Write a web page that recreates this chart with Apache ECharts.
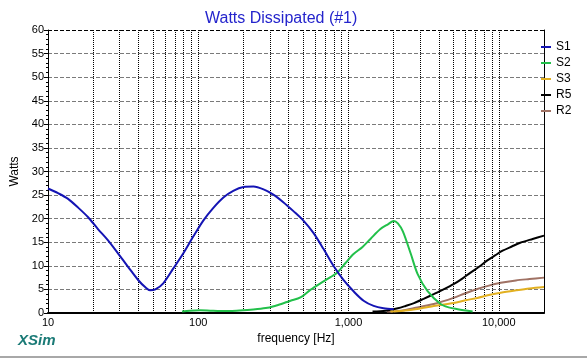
<!DOCTYPE html>
<html>
<head>
<meta charset="utf-8">
<script src="https://cdn.jsdelivr.net/npm/echarts@6/dist/echarts.min.js"></script>
<style>html,body{margin:0;padding:0;background:#fff;}#c{width:587px;height:360px;}</style>
</head>
<body>
<div id="c"></div>
<script>
const s1Freq = [10, 11.66, 13.6, 15.8, 18.5, 21.5, 25.1, 29.3, 34.1, 39.8, 44.3, 47.9, 51.8, 58.5, 68.1, 79.4, 92.6, 108, 126, 147, 171, 200, 233, 272, 316, 368, 430, 501, 584, 681, 794, 925, 1080, 1260, 1470, 1710, 2000];
const s1Watts = [26.4, 25.4, 24.2, 22.4, 20.3, 17.8, 15.4, 12.6, 9.8, 7.0, 5.5, 4.8, 5.0, 6.3, 9.4, 12.6, 16.2, 19.6, 22.3, 24.5, 25.9, 26.7, 26.8, 26.2, 25.1, 23.5, 21.6, 19.6, 17.0, 13.6, 10.0, 7.0, 4.6, 2.6, 1.5, 1.0, 0.8];
const s2Freq = [78, 88, 103, 120, 140, 168, 200, 240, 289, 340, 411, 479, 557, 650, 759, 843, 955, 1080, 1240, 1400, 1630, 1830, 2000, 2130, 2300, 2600, 2880, 3350, 4100, 4640, 5330, 6700];
const s2Watts = [0.3, 0.5, 0.6, 0.5, 0.4, 0.45, 0.6, 0.8, 1.1, 1.7, 2.6, 3.3, 4.9, 6.3, 7.6, 8.6, 10.6, 12.5, 14.0, 15.7, 17.8, 18.8, 19.5, 19.0, 17.3, 12.5, 8.3, 4.7, 1.9, 1.2, 0.8, 0.3];
const s3Freq = [1900, 2500, 3160, 3690, 5000, 6000, 7200, 8600, 10300, 13000, 16000, 20000];
const s3Watts = [0.3, 0.6, 1.1, 1.5, 2.1, 2.7, 3.2, 3.8, 4.3, 4.8, 5.2, 5.5];
const r5Freq = [1445, 1770, 2130, 2400, 2730, 3160, 3690, 4290, 5000, 5720, 6450, 7390, 8350, 9440, 10600, 12200, 13900, 16800, 20000];
const r5Watts = [0.3, 0.5, 1.0, 1.5, 2.1, 3.0, 4.0, 5.0, 6.1, 7.3, 8.5, 9.8, 11.1, 12.2, 13.2, 14.1, 14.9, 15.7, 16.4];
const r2Freq = [1800, 2220, 2800, 3690, 5000, 6000, 7200, 8600, 10300, 13000, 16000, 20000];
const r2Watts = [0.3, 0.5, 1.1, 1.9, 3.2, 4.2, 5.1, 5.8, 6.4, 6.9, 7.2, 7.5];
const seriesNames = ['S1', 'S2', 'S3', 'R5', 'R2'];
const seriesColors = ['#1414b4', '#22c04a', '#e2b020', '#000000', '#a07264'];
const gridFreqs = [20,30,40,50,60,70,80,90,100,200,300,400,500,600,700,800,900,1000,2000,3000,4000,5000,6000,7000,8000,9000,10000];

function pairs(f, w) { return f.map((x, i) => [x, w[i]]); }
const allData = [pairs(s1Freq, s1Watts), pairs(s2Freq, s2Watts), pairs(s3Freq, s3Watts), pairs(r5Freq, r5Watts), pairs(r2Freq, r2Watts)];

const series = seriesNames.map((n, i) => ({
  name: n, type: 'line', data: allData[i], showSymbol: false, smooth: 0.3,
  lineStyle: { width: 2, color: seriesColors[i] }, itemStyle: { color: seriesColors[i] },
  z: 7 - i
}));
series.push({
  name: 'grid', type: 'line', data: [], silent: true,
  markLine: {
    silent: true, symbol: 'none', label: { show: false },
    lineStyle: { type: 'dotted', color: '#000', width: 1 },
    data: gridFreqs.map(f => ({ xAxis: f })).concat([{ yAxis: 60, lineStyle: { type: 'dashed', color: '#000', width: 1 } }])
  }
});

const chart = echarts.init(document.getElementById('c'), null, { renderer: 'canvas' });
chart.setOption({
  animation: false,
  backgroundColor: '#fff',
  textStyle: { fontFamily: 'Liberation Sans, Arial, sans-serif' },
  title: { text: 'Watts Dissipated (#1)', left: 200, top: 6, textStyle: { color: '#2424cc', fontSize: 16, fontWeight: 'normal', fontFamily: 'Liberation Sans, Arial, sans-serif' } },
  legend: {
    data: seriesNames, orient: 'vertical', left: 536, top: 36, icon: 'rect', itemWidth: 10, itemHeight: 2, itemGap: 4,
    textStyle: { fontSize: 12, color: '#000', lineHeight: 12 }
  },
  grid: { left: 48, right: 43, top: 30, bottom: 47 },
  xAxis: {
    type: 'log', logBase: 10, min: 10, max: 20000,
    name: 'frequency [Hz]', nameLocation: 'middle', nameGap: 18,
    nameTextStyle: { fontSize: 12, color: '#000' },
    axisLine: { lineStyle: { color: '#000', width: 2 } },
    axisTick: { show: false },
    splitLine: { show: false },
    axisLabel: { fontSize: 11, color: '#000', margin: 4, formatter: v => (v >= 20000 ? '' : Number(v).toLocaleString('en-US')) }
  },
  yAxis: [{
    type: 'value', min: 0, max: 60, interval: 5,
    name: 'Watts', nameLocation: 'middle', nameGap: 26, nameRotate: 90,
    nameTextStyle: { fontSize: 12, color: '#000' },
    axisLine: { show: true, lineStyle: { color: '#000', width: 1 } },
    axisTick: { show: true, length: 4, lineStyle: { color: '#000' } },
    minorTick: { show: true, splitNumber: 5, length: 2, lineStyle: { color: '#000' } },
    splitLine: { show: true, lineStyle: { type: 'dashed', color: '#7a7a7a', width: 1 } },
    axisLabel: { fontSize: 11, color: '#000', margin: 4 }
  }, {
    type: 'value', min: 0, max: 60, position: 'right',
    axisLine: { show: true, lineStyle: { color: '#000', width: 1 } },
    axisTick: { show: false }, axisLabel: { show: false }, splitLine: { show: false }
  }],
  graphic: [
    { type: 'text', left: 18, top: 333, style: { text: 'XSim', font: 'italic bold 15px Liberation Sans, Arial, sans-serif', fill: '#1a7a76' } },
    { type: 'rect', left: 0, top: 356, shape: { width: 587, height: 2 }, style: { fill: '#a8a8a8' } }
  ],
  series: series
});
</script>
</body>
</html>
